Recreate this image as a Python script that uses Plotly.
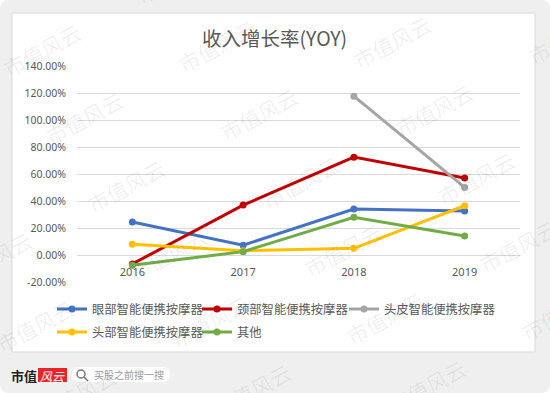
import plotly.graph_objects as go

W, H = 550, 393

years = ["2016", "2017", "2018", "2019"]
eye = [24.9, 7.8, 34.6, 33.1]
neck = [-6.1, 37.5, 73.0, 57.5]
scalp = [None, None, 118.2, 50.6]
head = [8.4, 3.7, 5.5, 37.0]
other = [-7.1, 3.0, 28.4, 14.6]
series_names = ["眼部智能便携按摩器", "颈部智能便携按摩器", "头皮智能便携按摩器",
                "头部智能便携按摩器", "其他"]
series_values = [eye, neck, scalp, head, other]
series_colors = ["#4472C4", "#C00000", "#A5A5A5", "#FFC000", "#70AD47"]
series_legend = ["legend", "legend2", "legend3", "legend4", "legend5"]
y_tick_vals = [-20, 0, 20, 40, 60, 80, 100, 120, 140]
y_tick_text = [f"{v:.2f}%" for v in y_tick_vals]
title_text = "收入增长率(YOY)"


def px(x):
    return x / W


def py(y):
    return (H - y) / H


fig = go.Figure()
for name, vals, col, lg in zip(series_names, series_values, series_colors, series_legend):
    fig.add_trace(go.Scatter(
        x=years, y=vals, name=name, mode="lines+markers",
        line=dict(color=col, width=3),
        marker=dict(color=col, size=7),
        connectgaps=False, legend=lg,
    ))

shapes = []
r = 9
x0, y0, x1, y1 = 0, 0, W, H
path = (f"M {px(x0+r)},{py(y0)} L {px(x1-r)},{py(y0)} Q {px(x1)},{py(y0)} {px(x1)},{py(y0+r)} "
        f"L {px(x1)},{py(y1-r)} Q {px(x1)},{py(y1)} {px(x1-r)},{py(y1)} "
        f"L {px(x0+r)},{py(y1)} Q {px(x0)},{py(y1)} {px(x0)},{py(y1-r)} "
        f"L {px(x0)},{py(y0+r)} Q {px(x0)},{py(y0)} {px(x0+r)},{py(y0)} Z")
shapes.append(dict(type="path", path=path, xref="paper", yref="paper",
                   fillcolor="#efefef", line=dict(width=0), layer="below"))
shapes.append(dict(type="rect", xref="paper", yref="paper",
                   x0=px(12), x1=px(535), y0=py(352), y1=py(13),
                   fillcolor="white", line=dict(color="#d9d9d9", width=1), layer="below"))
sx0, sx1, sy0, sy1 = 72, 170, 367, 382
rr = 7.5
path2 = (f"M {px(sx0+rr)},{py(sy0)} L {px(sx1-rr)},{py(sy0)} Q {px(sx1)},{py(sy0)} {px(sx1)},{py(sy0+rr)} "
         f"Q {px(sx1)},{py(sy1)} {px(sx1-rr)},{py(sy1)} L {px(sx0+rr)},{py(sy1)} "
         f"Q {px(sx0)},{py(sy1)} {px(sx0)},{py(sy0+rr)} Q {px(sx0)},{py(sy0)} {px(sx0+rr)},{py(sy0)} Z")
shapes.append(dict(type="path", path=path2, xref="paper", yref="paper",
                   fillcolor="white", line=dict(width=0), layer="above"))
shapes.append(dict(type="circle", xref="paper", yref="paper",
                   x0=px(77), x1=px(85), y0=py(378), y1=py(370),
                   line=dict(color="#777777", width=1.5), fillcolor="rgba(0,0,0,0)"))
shapes.append(dict(type="line", xref="paper", yref="paper",
                   x0=px(84), x1=px(88), y0=py(377), y1=py(381),
                   line=dict(color="#777777", width=1.5)))
shapes.append(dict(type="rect", xref="paper", yref="paper",
                   x0=px(38), x1=px(67), y0=py(382), y1=py(368),
                   fillcolor="#e8242b", line=dict(width=0)))

annotations = []
for k in range(-1, 6):
    for m in range(-1, 4):
        cx = 42 + 42 * k + 175 * m
        cy = 50 + 68 * k - 4 * m
        if -40 < cx < W + 40 and -25 < cy < H + 25:
            annotations.append(dict(
                x=px(cx), y=py(cy), xref="paper", yref="paper", text="市值风云",
                xanchor="center", yanchor="middle",
                showarrow=False, textangle=-28,
                font=dict(family="Noto Sans CJK SC", size=21, color="rgba(0,0,0,0.065)")))

annotations.append(dict(x=px(274), y=py(37), xref="paper", yref="paper", text=title_text,
                        xanchor="center", yanchor="middle",
                        showarrow=False, font=dict(family="Noto Sans CJK SC", size=19.5, color="#595959")))
annotations.append(dict(x=px(24), y=py(375.5), xref="paper", yref="paper", text="<b>市值</b>",
                        xanchor="center", yanchor="middle",
                        showarrow=False, font=dict(family="Noto Sans CJK SC", size=13, color="#222222")))
annotations.append(dict(x=px(52.5), y=py(375), xref="paper", yref="paper", text="<i>风云</i>",
                        xanchor="center", yanchor="middle",
                        showarrow=False, font=dict(family="Noto Sans CJK SC", size=12, color="white")))
annotations.append(dict(x=px(92), y=py(374.5), xref="paper", yref="paper", text="买股之前搜一搜",
                        xanchor="left", yanchor="middle", showarrow=False,
                        font=dict(family="Noto Sans CJK SC", size=10, color="#9a9a9a")))

legend_common = dict(orientation="h", xanchor="left", yanchor="middle",
                     font=dict(family="Noto Sans CJK SC", size=12.3, color="#595959"),
                     bgcolor="rgba(0,0,0,0)", itemwidth=30, traceorder="normal")

fig.update_layout(
    width=W, height=H,
    margin=dict(l=0, r=0, t=0, b=0, autoexpand=False),
    paper_bgcolor="white",
    plot_bgcolor="rgba(0,0,0,0)",
    shapes=shapes,
    annotations=annotations,
    showlegend=True,
    legend=dict(x=px(52), y=py(309), **legend_common),
    legend2=dict(x=px(197), y=py(309), **legend_common),
    legend3=dict(x=px(344), y=py(309), **legend_common),
    legend4=dict(x=px(52), y=py(332), **legend_common),
    legend5=dict(x=px(197), y=py(332), **legend_common),
    xaxis=dict(type="category", domain=[px(77), px(520)], range=[-0.5, 3.5],
               anchor="free", position=py(255.7), showline=False, showgrid=False,
               zeroline=False, ticks="", ticklabelstandoff=8,
               tickfont=dict(family="Noto Sans", size=11, color="#595959")),
    yaxis=dict(domain=[py(282.7), py(66.7)], range=[-20, 140],
               tickvals=y_tick_vals, ticktext=y_tick_text,
               showgrid=True, gridcolor="#d9d9d9", gridwidth=1, zeroline=False,
               showline=False, ticks="", ticklabelstandoff=10,
               tickfont=dict(family="Noto Sans", size=10.5, color="#595959")),
)

fig.write_html("out.html", config={"displayModeBar": False},
               post_script="document.body.style.margin='0';document.body.style.overflow='hidden';")
